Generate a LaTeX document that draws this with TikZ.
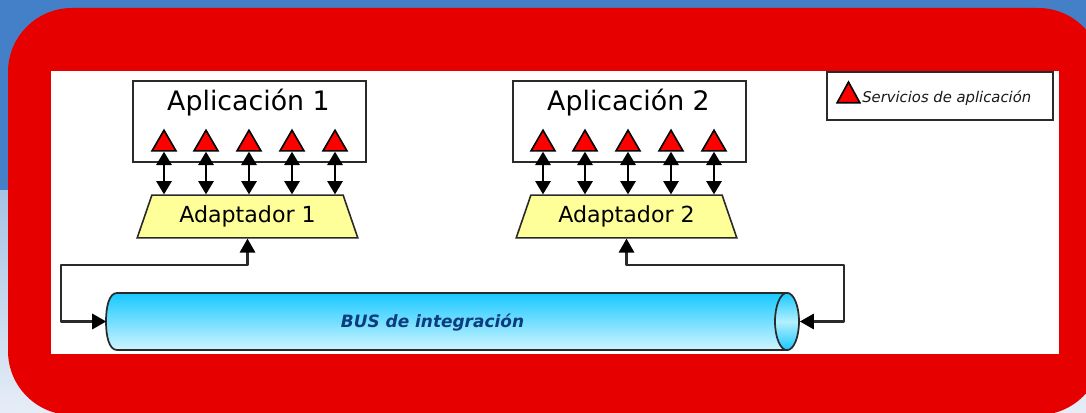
\documentclass[tikz,border=0pt]{standalone}
\usepackage{fontspec}
\setmainfont{DejaVu Sans}
\usetikzlibrary{shapes.geometric,arrows.meta}
\definecolor{bgblue}{HTML}{4480C8}
\definecolor{bgtop}{HTML}{A6C3E3}
\definecolor{bgbot}{HTML}{E6EDF7}
\definecolor{framered}{HTML}{E60000}
\definecolor{adyellow}{HTML}{FFFF99}
\definecolor{cyanA}{HTML}{18C8FF}
\definecolor{cyanB}{HTML}{CFF5FF}
\definecolor{cyanC}{HTML}{B4EFFF}
\definecolor{bustext}{HTML}{0B3C7C}
\definecolor{line}{HTML}{2A2A2A}
\tikzset{
  appbox/.style={draw=line,line width=1.4pt,fill=white,minimum width=174.5pt,minimum height=60.5pt,inner sep=0pt},
  apptext/.style={inner sep=0pt,font=\fontsize{20.1}{23}\selectfont,text=black},
  svc/.style={draw=black,line width=1.2pt,fill=red,isosceles triangle,isosceles triangle stretches,shape border rotate=90,minimum width=18pt,minimum height=15.5pt,inner sep=0pt,line join=miter},
  adapter/.style={draw=line,line width=1.2pt,fill=adyellow,trapezium,trapezium stretches=true,trapezium left angle=64,trapezium right angle=64,minimum width=165.5pt,minimum height=32pt,inner sep=0pt,font=\fontsize{16.6}{19}\selectfont},
  twoway/.style={draw=black,line width=1.5pt,{Triangle[width=11.5pt,length=10pt,fill=black]}-{Triangle[width=11.5pt,length=10pt,fill=black]}},
  link/.style={draw=line,line width=1.6pt,line join=round,{Triangle[width=11.5pt,length=10.5pt,black,fill=black]}-{Triangle[width=11.5pt,length=10.5pt,black,fill=black]}},
  busbody/.style={draw=line,line width=1.3pt,top color=cyanA,bottom color=cyanB},
  busend/.style={draw=line,line width=1.3pt,shade,top color=cyanA,bottom color=cyanA,middle color=cyanC},
  legendbox/.style={draw=line,line width=1.5pt,fill=white,minimum width=169pt,minimum height=36pt,inner sep=0pt},
}
\begin{document}
\begin{tikzpicture}[x=0.75pt,y=-0.75pt]
\useasboundingbox (0,0) rectangle (1086,413);
% slide background
\fill[bgblue] (0,0) rectangle (1086,191);
\shade[top color=bgtop,bottom color=bgbot] (0,191) rectangle (1086,413);
\begin{scope}
\clip (0,0) rectangle (1086,413);
\fill[framered,rounded corners=48pt] (8,8) rectangle (1102,415);
\end{scope}
\fill[white] (51,71) rectangle (1059,354);
% applications
\node[appbox] (app1) at (249.5,121.5) {};
\node[appbox] (app2) at (629.5,121.5) {};
\node[apptext] (app1t) at (248.5,102.5) {Aplicación 1};
\node[apptext] (app2t) at (628.5,102.5) {Aplicación 2};
% adapters
\node[adapter] (ad1) at (247.5,216.5) {Adaptador 1};
\node[adapter] (ad2) at (626.5,216.5) {Adaptador 2};
% services and their arrows
\foreach \n/\x in {1/164,2/206,3/249,4/292,5/335}{
  \node[svc] (a\n) at (\x,144) {};
  \draw[twoway] (a\n.south) -- (a\n.south |- ad1.north);
}
\foreach \n/\x in {1/543,2/585,3/628,4/671,5/714}{
  \node[svc] (b\n) at (\x,144) {};
  \draw[twoway] (b\n.south) -- (b\n.south |- ad2.north);
}
% bus
\node[inner sep=0pt,minimum width=519pt,minimum height=43pt] (bus) at (452.5,321.5) {};
\draw[busbody] (117,293) -- (787,293) -- (787,350) -- (117,350) .. controls (109,350) and (106,336) .. (106,321.5) .. controls (106,307) and (109,293) .. (117,293) -- cycle;
\node[ellipse,minimum width=18pt,minimum height=43pt,inner sep=0pt,busend] (busend) at (787,321.5) {};
\node[inner sep=0pt,text=bustext,font=\fontsize{12.7}{15}\selectfont\bfseries\itshape] (bust) at (432.5,322.5) {BUS de integración};
% links
\coordinate (la) at (61,265);
\coordinate (ra) at (844,265);
\coordinate (lb) at (61,321.5);
\coordinate (rb) at (844,321.5);
\draw[link] (ad1.south) |- (la) -- (lb) -- (bus.west);
\draw[link] (ad2.south) |- (ra) -- (rb) -- (busend.east);
% legend
\node[legendbox] (leg) at (940,96.5) {};
\node[svc,minimum width=17pt,minimum height=15.5pt] (legt) at (848.5,96) {};
\node[inner sep=0pt,anchor=west,font=\fontsize{11.1}{13}\selectfont\itshape,text=black!90] (legl) at (862,98.5) {Servicios de aplicación};
\end{tikzpicture}
\end{document}
